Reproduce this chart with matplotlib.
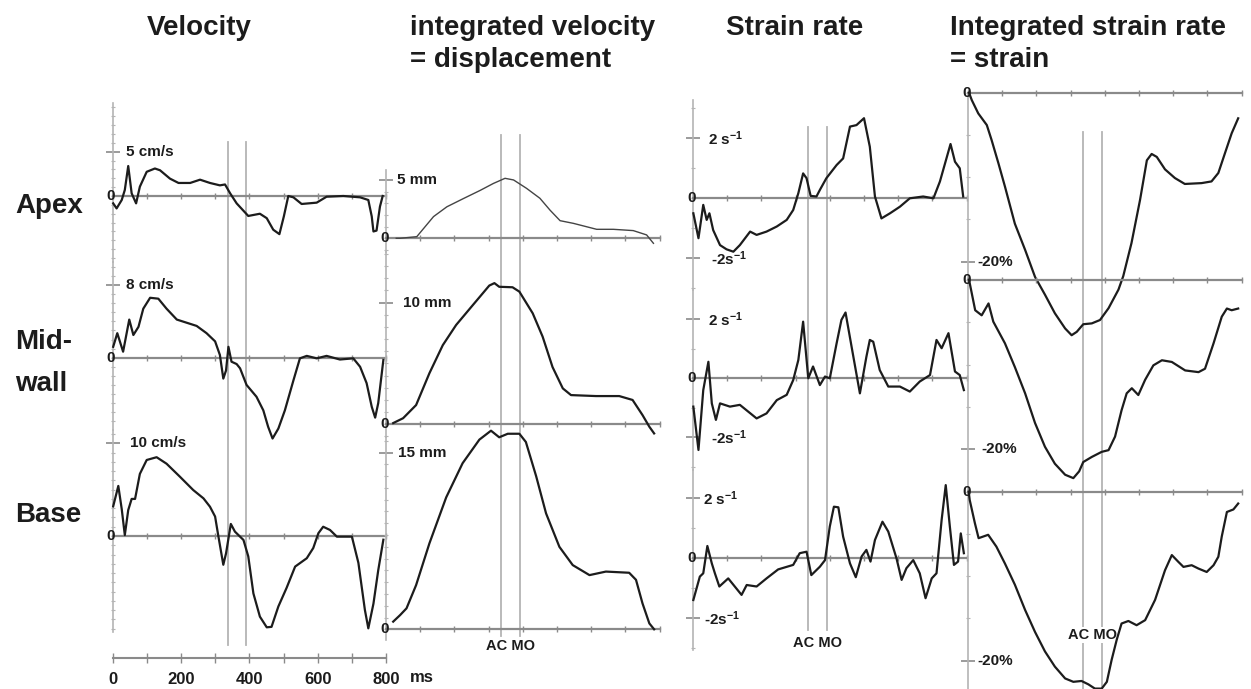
import matplotlib
matplotlib.use("Agg")
import matplotlib.pyplot as plt
from matplotlib.ticker import MultipleLocator, FixedLocator, NullFormatter

plt.rcParams['font.family'] = ['Liberation Sans', 'DejaVu Sans']
plt.rcParams['font.weight'] = 'bold'
plt.rcParams['mathtext.default'] = 'regular'

# ---------------- data (time in ms) ----------------
AC_MS = 337
MO_MS = 391
time_ticks = [0, 200, 400, 600, 800]

vel_apex_t = [2, 12, 27, 36, 46, 56, 69, 80, 100, 124, 139, 168, 193, 227, 256, 285, 314, 329, 344, 363,
              397, 431, 451, 470, 488, 501, 514, 529, 553, 597, 626, 675, 724, 748, 758, 763, 772, 782, 790]
vel_apex_v = [-0.83, -1.4, -0.45, 0.68, 3.38, 0.3, -0.83, 1.05, 2.73, 3.1, 2.9, 1.96, 1.47, 1.47, 1.84, 1.47,
              1.2, 1.3, 0.3, -0.83, -2.25, -2.0, -2.5, -3.8, -4.3, -2.3, 0.0, -0.15, -0.9, -0.75, -0.08, 0.0,
              -0.15, -0.45, -2.3, -4.0, -3.9, -1.2, 0.0]

vel_mid_t = [2, 14, 31, 49, 61, 76, 90, 110, 134, 158, 188, 217, 246, 275, 300, 314, 324, 332, 339, 348, 363,
             373, 392, 421, 441, 455, 468, 485, 504, 529, 548, 568, 597, 626, 665, 704, 724, 743, 758, 768,
             777, 792]
vel_mid_v = [1.2, 2.7, 0.66, 4.2, 2.5, 3.4, 5.4, 6.6, 6.5, 5.4, 4.2, 3.85, 3.5, 2.7, 1.8, 0.3, -2.3, -1.4,
             1.2, -0.44, -0.7, -1.17, -3.0, -4.3, -5.8, -7.6, -8.9, -7.8, -5.8, -2.5, -0.07, 0.2, -0.07, 0.2,
             -0.2, -0.07, -1.0, -2.8, -5.4, -6.6, -5.0, -0.25]

vel_base_t = [2, 17, 27, 36, 46, 56, 66, 80, 100, 129, 158, 197, 236, 266, 285, 300, 309, 324, 332, 346, 358,
              383, 397, 412, 431, 451, 465, 485, 509, 534, 568, 587, 602, 616, 636, 656, 700, 719, 738, 748,
              763, 777, 792]
vel_base_v = [3.2, 5.4, 2.9, 0.1, 2.8, 4.0, 4.0, 6.7, 8.2, 8.5, 7.8, 6.4, 4.96, 4.06, 3.16, 2.1, 0.1, -3.1,
              -1.87, 1.3, 0.47, -0.43, -2.2, -6.2, -8.7, -9.85, -9.8, -7.6, -5.6, -3.3, -2.4, -1.3, 0.3, 1.0,
              0.65, -0.07, -0.07, -2.9, -7.98, -9.96, -7.3, -3.7, -0.4]

disp_apex_t = [30, 41, 90, 139, 178, 226, 275, 314, 348, 373, 411, 450, 480, 509, 548, 616, 665, 723, 762, 782]
disp_apex_v = [0, 0, 0.14, 1.86, 2.7, 3.4, 4.1, 4.7, 5.14, 5.0, 4.28, 3.43, 2.4, 1.51, 1.28, 0.77, 0.77,
               0.66, 0.29, -0.43]

disp_mid_t = [21, 50, 88, 127, 166, 205, 254, 302, 317, 331, 370, 390, 429, 458, 487, 517, 541, 614, 682,
              721, 750, 770, 784]
disp_mid_v = [0.1, 0.5, 1.58, 4.2, 6.5, 8.16, 9.8, 11.4, 11.6, 11.3, 11.26, 10.9, 9.12, 7.2, 4.7, 2.95, 2.4,
              2.32, 2.32, 2.0, 0.76, -0.2, -0.75]

disp_base_t = [21, 41, 60, 88, 127, 176, 224, 273, 307, 331, 356, 390, 409, 439, 468, 507, 546, 595, 643,
               711, 731, 750, 770, 784]
disp_base_v = [0.65, 1.2, 1.78, 3.75, 7.3, 11.2, 14.1, 16.1, 16.86, 16.3, 16.6, 16.6, 15.9, 13.0, 9.84, 7.0,
               5.45, 4.6, 4.9, 4.8, 4.2, 2.2, 0.5, 0.0]

sr_apex_t = [1, 16, 30, 40, 48, 59, 79, 98, 118, 137, 167, 186, 215, 245, 274, 293, 308, 322, 332, 344, 361,
             371, 390, 420, 439, 459, 478, 500, 517, 532, 551, 576, 605, 634, 673, 703, 722, 753, 766, 780, 790]
sr_apex_v = [-0.5, -1.33, -0.22, -0.72, -0.5, -1.06, -1.56, -1.7, -1.78, -1.56, -1.11, -1.22, -1.11, -0.94,
             -0.72, -0.39, 0.17, 0.83, 0.67, 0.08, 0.06, 0.28, 0.67, 1.11, 1.33, 2.39, 2.44, 2.67, 1.72, 0.06,
             -0.67, -0.5, -0.28, 0.0, 0.06, 0.0, 0.56, 1.81, 1.22, 1.0, 0.06]

sr_mid_t = [1, 16, 30, 45, 55, 67, 79, 108, 137, 186, 215, 245, 274, 293, 308, 322, 337, 351, 371, 386, 400,
            420, 434, 446, 468, 488, 507, 517, 527, 546, 571, 605, 634, 663, 693, 712, 727, 747, 766, 780, 792]
sr_mid_v = [-0.96, -2.43, -0.4, 0.56, -0.85, -1.41, -0.85, -0.96, -0.9, -1.36, -1.19, -0.74, -0.56, -0.06,
            0.62, 1.92, 0.0, 0.4, -0.23, 0.06, 0.0, 1.19, 1.98, 2.23, 0.79, -0.51, 0.73, 1.3, 1.24, 0.28,
            -0.28, -0.28, -0.45, -0.11, 0.11, 1.3, 1.02, 1.53, 0.23, 0.11, -0.4]

sr_base_t = [1, 20, 30, 42, 55, 64, 77, 103, 142, 157, 186, 215, 249, 293, 312, 332, 346, 371, 386, 400, 412,
             425, 439, 459, 476, 493, 507, 519, 532, 554, 571, 595, 610, 624, 644, 663, 680, 698, 712, 727,
             739, 751, 763, 775, 783, 792]
sr_base_v = [-1.39, -0.61, -0.5, 0.41, -0.17, -0.5, -0.94, -0.67, -1.22, -0.89, -0.94, -0.67, -0.37, -0.22,
             0.17, 0.22, -0.56, -0.28, -0.06, 1.06, 1.72, 1.7, 0.72, -0.17, -0.63, 0.06, 0.28, -0.11, 0.61,
             1.22, 0.89, 0.0, -0.72, -0.33, -0.06, -0.5, -1.33, -0.67, -0.5, 1.28, 2.44, 1.06, -0.22, -0.11,
             0.83, 0.17]

strain_apex_t = [3, 11, 30, 55, 69, 89, 108, 137, 167, 196, 225, 254, 284, 303, 318, 337, 362, 386, 411, 440,
                 454, 478, 503, 523, 537, 552, 576, 605, 634, 683, 712, 732, 751, 771, 790]
strain_apex_v = [0, -0.87, -2.45, -3.83, -5.6, -8.36, -11.1, -15.5, -18.6, -21.8, -23.9, -26.1, -27.9, -28.7,
                 -28.3, -27.4, -27.3, -26.9, -25.5, -23.3, -21.7, -17.8, -12.7, -8.0, -7.25, -7.6, -9.07,
                 -10.1, -10.8, -10.7, -10.5, -9.5, -7.2, -4.8, -3.03]

strain_mid_t = [3, 9, 21, 40, 60, 74, 108, 137, 167, 196, 225, 254, 284, 308, 325, 337, 362, 391, 411, 430,
                449, 464, 479, 498, 518, 542, 567, 596, 635, 674, 693, 718, 742, 757, 771, 790]
strain_mid_v = [0, -1.2, -3.6, -4.2, -2.8, -4.95, -7.5, -10.3, -13.4, -16.9, -19.7, -21.7, -23.0, -23.4,
                -22.6, -21.5, -20.9, -20.3, -20.1, -18.5, -15.4, -13.4, -12.8, -13.6, -11.8, -10.1, -9.5,
                -9.7, -10.7, -10.9, -10.5, -7.5, -4.36, -3.4, -3.6, -3.4]

strain_base_t = [2, 5, 20, 31, 59, 83, 108, 137, 167, 196, 225, 254, 284, 308, 332, 352, 371, 391, 406, 420,
                 435, 449, 469, 493, 518, 547, 576, 596, 615, 630, 654, 674, 698, 718, 732, 742, 757, 776, 790]
strain_base_v = [0, -0.98, -3.7, -5.5, -5.1, -6.5, -8.5, -11.0, -14.0, -16.6, -18.9, -20.7, -22.1, -22.5,
                 -22.4, -22.8, -23.3, -23.3, -22.5, -19.9, -17.5, -15.6, -15.3, -15.8, -15.2, -12.8, -9.3,
                 -7.5, -8.3, -8.9, -8.7, -9.1, -9.5, -8.7, -7.7, -5.3, -2.4, -2.1, -1.4]

# ---------------- layout (pixels) ----------------
W, H = 1251, 689
PX_PER_MS = 0.342
COL_W = 800 * PX_PER_MS
COL_X0 = {'vel': 112.5, 'disp': 386, 'sr': 693, 'strain': 968}
GRAY = '#8a8a8a'
LGRAY = '#b4b4b4'
INK = '#1c1c1c'

fig = plt.figure(figsize=(W / 100, H / 100), dpi=100)
fig.patch.set_facecolor('white')


def fy(py):
    return 1 - py / H


# overlay axes for AC / MO markers (behind curves)
vline_span = {'vel': (142, 645), 'disp': (135, 636), 'sr': (127, 630), 'strain': (132, 689)}
acmo_label_y = {'disp': 646, 'sr': 643, 'strain': 635}
for col, (top, bot) in vline_span.items():
    ov = fig.add_axes([COL_X0[col] / W, 0, COL_W / W, 1], zorder=0)
    ov.set_xlim(0, 800)
    ov.set_ylim(0, 1)
    ov.axis('off')
    for x in (AC_MS, MO_MS):
        ov.axvline(x, ymin=fy(bot), ymax=fy(top), color=LGRAY, lw=1.3)
    if col in acmo_label_y:
        kw = {}
        if col == 'strain':
            kw['bbox'] = dict(facecolor='white', edgecolor='none', pad=1.0)
        ov.text((AC_MS + MO_MS) / 2, fy(acmo_label_y[col]), 'AC MO', transform=ov.get_xaxis_transform(),
                ha='center', va='center', fontsize=10.5, color=INK, **kw)


def add_panel(col, y0, k, top, bot, t, v, majors, minor_step, labels, lw=1.6, color=INK):
    ax = fig.add_axes([COL_X0[col] / W, fy(bot), COL_W / W, (bot - top) / H], zorder=2)
    ax.patch.set_alpha(0)
    ax.set_xlim(0, 800)
    ax.set_ylim((y0 - bot) / k, (y0 - top) / k)
    ax.spines['top'].set_visible(False)
    ax.spines['right'].set_visible(False)
    ax.spines['bottom'].set_position(('data', 0))
    ax.spines['bottom'].set_color(GRAY)
    ax.spines['bottom'].set_linewidth(1.6)
    ax.spines['left'].set_color(LGRAY)
    ax.spines['left'].set_linewidth(1.2)
    ax.xaxis.set_major_locator(MultipleLocator(100))
    ax.xaxis.set_major_formatter(NullFormatter())
    ax.tick_params(axis='x', which='major', direction='inout', length=5, width=1, colors=GRAY)
    ax.yaxis.set_major_locator(FixedLocator(majors))
    ax.yaxis.set_minor_locator(MultipleLocator(minor_step))
    ax.yaxis.set_major_formatter(NullFormatter())
    ax.tick_params(axis='y', which='major', direction='inout', length=10, width=1.2, colors=GRAY)
    ax.tick_params(axis='y', which='minor', direction='inout', length=3.5, width=0.8, colors=LGRAY)
    ax.plot(t, v, color=color, lw=lw, clip_on=False, zorder=3, solid_joinstyle='round')
    ax.annotate('0', xy=(0, 0), xytext=(-1, 0), textcoords='offset points', ha='center', va='center',
                fontsize=11, color=INK, annotation_clip=False)
    for val, txt, dx in labels:
        ax.annotate(txt, xy=(0, val), xytext=(dx * 0.72, 0), textcoords='offset points', ha='left',
                    va='center', fontsize=11, color=INK, annotation_clip=False)
    return ax


SR_UP = r'2 s$^{-1}$'
SR_DN = r'-2s$^{-1}$'

# velocity
add_panel('vel', 196, 8.87, 103, 262, vel_apex_t, vel_apex_v, [5], 1, [(5, '5 cm/s', 13)])
add_panel('vel', 357.7, 9.08, 262, 430, vel_mid_t, vel_mid_v, [8], 1, [(8, '8 cm/s', 13)])
add_panel('vel', 536, 9.27, 430, 632, vel_base_t, vel_base_v, [10], 1, [(10, '10 cm/s', 18)])
# displacement
add_panel('disp', 238.3, 11.67, 170, 252, disp_apex_t, disp_apex_v, [5], 1, [(5, '5 mm', 11)],
          lw=1.0, color='#444444')
add_panel('disp', 424.3, 12.17, 252, 437, disp_mid_t, disp_mid_v, [10], 1, [(10, '10 mm', 17)])
add_panel('disp', 629.3, 11.78, 437, 640, disp_base_t, disp_base_v, [15], 1, [(15, '15 mm', 12)])
# strain rate
add_panel('sr', 198.3, 30, 100, 290, sr_apex_t, sr_apex_v, [2, -2], 1, [(2, SR_UP, 15), (-2, SR_DN, 18)])
add_panel('sr', 378.3, 29.5, 290, 470, sr_mid_t, sr_mid_v, [2, -2], 1, [(2, SR_UP, 15), (-2, SR_DN, 18)])
add_panel('sr', 558.3, 30, 470, 650, sr_base_t, sr_base_v, [2, -2], 1, [(2, SR_UP, 10), (-2, SR_DN, 11)])
# strain
add_panel('strain', 92.7, 8.45, 92.7, 279.7, strain_apex_t, strain_apex_v, [-20], 5, [(-20, '-20%', 9)])
add_panel('strain', 279.7, 8.48, 279.7, 491.7, strain_mid_t, strain_mid_v, [-20], 5, [(-20, '-20%', 13)])
add_panel('strain', 491.7, 8.45, 491.7, 689, strain_base_t, strain_base_v, [-20], 5, [(-20, '-20%', 9)])

# time scale under velocity column
ax_t = fig.add_axes([COL_X0['vel'] / W, fy(658), COL_W / W, 0.01], zorder=2)
ax_t.patch.set_alpha(0)
ax_t.set_xlim(0, 800)
ax_t.set_ylim(0, 1)
for s in ('left', 'top', 'right'):
    ax_t.spines[s].set_visible(False)
ax_t.spines['bottom'].set_color(GRAY)
ax_t.spines['bottom'].set_linewidth(1.5)
ax_t.set_yticks([])
ax_t.set_xticks(time_ticks)
ax_t.set_xticklabels([str(x) for x in time_ticks])
ax_t.xaxis.set_minor_locator(MultipleLocator(100))
ax_t.tick_params(axis='x', which='both', direction='inout', length=7, width=1, colors=GRAY,
                 labelcolor=INK, labelsize=12, pad=6.5)
ax_t.annotate('ms', xy=(800, 0), xytext=(17, -14.4), textcoords='offset points', ha='left', va='center',
              fontsize=12, color=INK, annotation_clip=False)

# titles and row labels
TS = 20
fig.text(147 / W, fy(35), 'Velocity', fontsize=TS, color=INK, va='baseline')
fig.text(410 / W, fy(35), 'integrated velocity', fontsize=TS, color=INK, va='baseline')
fig.text(410 / W, fy(67), '= displacement', fontsize=TS, color=INK, va='baseline')
fig.text(726 / W, fy(35), 'Strain rate', fontsize=TS, color=INK, va='baseline')
fig.text(950 / W, fy(35), 'Integrated strain rate', fontsize=TS, color=INK, va='baseline')
fig.text(950 / W, fy(67), '= strain', fontsize=TS, color=INK, va='baseline')
fig.text(15 / W, fy(213), 'Apex', fontsize=TS, color=INK, va='baseline')
fig.text(15 / W, fy(349), 'Mid-', fontsize=TS, color=INK, va='baseline')
fig.text(15 / W, fy(391), 'wall', fontsize=TS, color=INK, va='baseline')
fig.text(15 / W, fy(522), 'Base', fontsize=TS, color=INK, va='baseline')

fig.savefig('out.png', dpi=100, facecolor='white')
